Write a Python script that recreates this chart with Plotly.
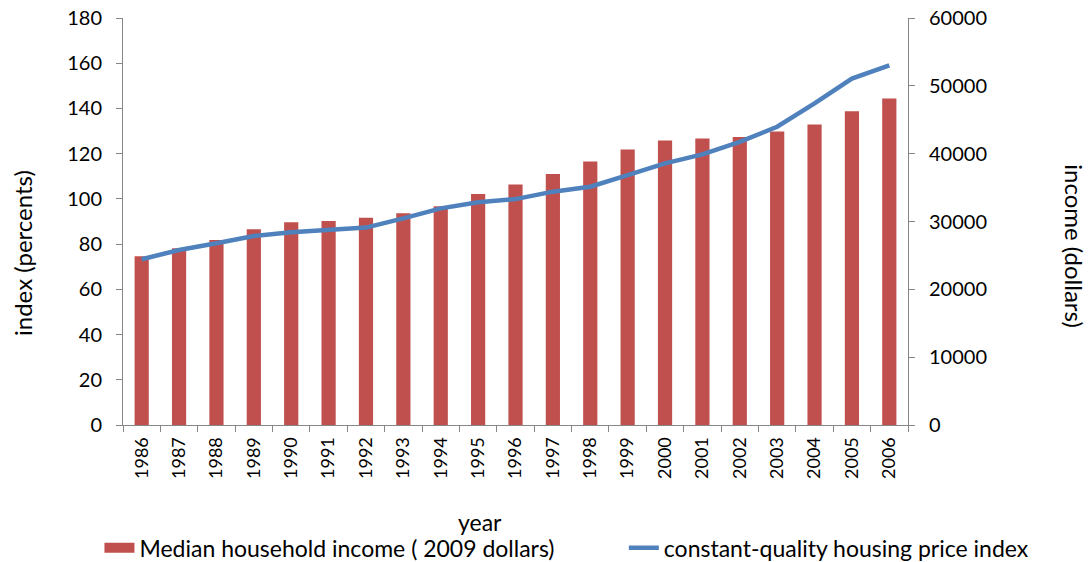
import plotly.graph_objects as go

years = [str(y) for y in range(1986, 2007)]
# median household income (2009 dollars), right axis
income = [24870, 26070, 27270, 28870, 29900, 30070, 30570, 31200, 32230, 34070,
          35470, 37000, 38860, 40630, 41950, 42250, 42440, 43280, 44310, 46270, 48140]
# constant-quality housing price index, left axis
price_index = [73.3, 77.4, 80.4, 83.6, 85.2, 86.3, 87.3, 91.4, 95.8, 98.5,
               99.9, 103.2, 105.4, 110.5, 115.7, 119.7, 125.2, 131.9, 142.2, 153.2, 159.1]

FONT = 'Lato, "Open Sans", sans-serif'
AXIS_GREY = '#868686'
RED = '#c0504d'
BLUE = '#4f81bd'

fig = go.Figure()

fig.add_trace(go.Bar(
    x=years, y=income, yaxis='y',
    name='Median household income ( 2009 dollars)',
    marker=dict(color=RED, line=dict(width=0)),
    width=0.38, showlegend=False,
))

# legend-only entry so the swatch is a wide block like the original
fig.add_trace(go.Scatter(
    x=[None], y=[None], yaxis='y', mode='lines',
    name='Median household income ( 2009 dollars)',
    line=dict(color=RED, width=17), legend='legend',
))

fig.add_trace(go.Scatter(
    x=years, y=price_index, yaxis='y2',
    mode='lines',
    name='constant-quality housing price index',
    line=dict(color=BLUE, width=4.5), legend='legend2',
))

axis_common = dict(
    showline=True, linecolor=AXIS_GREY, linewidth=1,
    ticks='outside', ticklen=6, tickcolor=AXIS_GREY,
    showgrid=False, zeroline=False, automargin=False,
    ticklabeloverflow='allow',
)

fig.update_layout(
    width=1089, height=562,
    paper_bgcolor='white', plot_bgcolor='white',
    font=dict(family=FONT, size=20, color='black'),
    margin=dict(l=123, r=181, t=18, b=137, autoexpand=False),
    xaxis=dict(
        type='category', tickangle=-90, tickson='boundaries',
        tickfont=dict(size=18), ticklabelstandoff=4,
        **axis_common,
    ),
    yaxis=dict(
        side='right', range=[0, 60000], dtick=10000, tickformat='d',
        tickfont=dict(size=20), ticklabelstandoff=10,
        **axis_common,
    ),
    yaxis2=dict(
        overlaying='y', side='left', range=[0, 180], dtick=20,
        tickfont=dict(size=20), ticklabelstandoff=10,
        **axis_common,
    ),
    showlegend=True,
    legend=dict(
        orientation='h', x=-0.03, y=-0.302, xanchor='left', yanchor='middle',
        font=dict(size=23), bgcolor='rgba(0,0,0,0)',
    ),
    legend2=dict(
        orientation='h', x=0.638, y=-0.302, xanchor='left', yanchor='middle',
        font=dict(size=23), bgcolor='rgba(0,0,0,0)',
    ),
    bargap=0.6,
    annotations=[
        dict(text='year', xref='paper', yref='paper', x=0.455, y=-0.238,
             showarrow=False, font=dict(size=23), xanchor='center', yanchor='middle'),
        dict(text='index (percents)', xref='paper', yref='paper', x=-0.1287, y=0.4226,
             textangle=-90, showarrow=False, font=dict(size=24),
             xanchor='center', yanchor='middle'),
        dict(text='income (dollars)', xref='paper', yref='paper', x=1.211, y=0.44,
             textangle=90, showarrow=False, font=dict(size=24),
             xanchor='center', yanchor='middle'),
    ],
)

# drop the default 8px body margin so the figure fills the window
fig.write_html("out.html", config={'displayModeBar': False},
               post_script="document.body.style.margin='0';")
